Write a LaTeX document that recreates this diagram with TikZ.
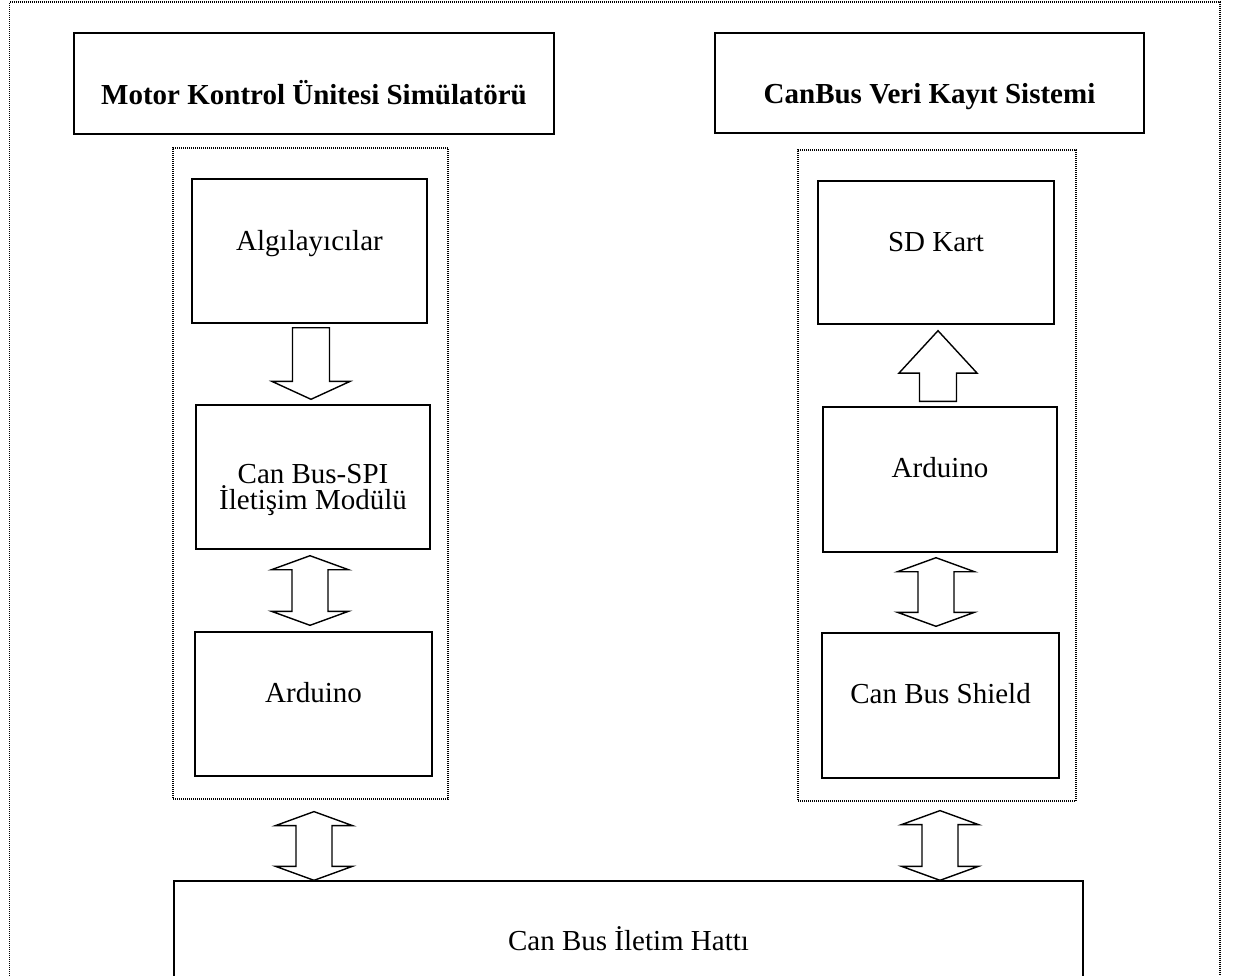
\documentclass[tikz,border=0pt]{standalone}
\usepackage{fontspec}
\setmainfont{Liberation Serif}
\usetikzlibrary{calc}

% hollow double block arrow, #1: upper tip, #2: lower tip
\newcommand{\dblarrow}[2]{%
  \draw[blockarr] (#1) -- ++(38.5,14) -- ++(-20.5,0)
    -- ($(#1 |- #2)+(18,-14)$) -- ++(20.5,0) -- (#1 |- #2)
    -- ++(-38.5,-14) -- ++(20.5,0) -- ($(#1)+(-18,14)$) -- ++(-20.5,0) -- cycle;}

% hollow single block arrow, #1: tail, #2: tip, #3: where the head starts
\newcommand{\onearrow}[3]{%
  \path ($(#1)!#3!(#1 |- #2)$) coordinate (hb);
  \draw[blockarr] ($(#1)+(-18.5,0)$) -- ($(hb)+(-18.5,0)$) -- ($(hb)+(-39,0)$)
    -- (#1 |- #2) -- ($(hb)+(39,0)$) -- ($(hb)+(18.5,0)$) -- ($(#1)+(18.5,0)$) -- cycle;}

\tikzset{
  box/.style={draw, line width=0.7pt, inner sep=0pt, align=center,
    font=\fontsize{14.5pt}{13pt}\selectfont},
  headbox/.style={box, font=\fontsize{14.5pt}{13pt}\selectfont\bfseries},
  dotbox/.style={draw, line width=0.6pt, dash pattern=on 0.5pt off 0.5pt, inner sep=0pt},
  blockarr/.style={draw, line width=0.7pt, fill=white},
  tx/.style 2 args={text height=#1, text depth=#2}
}

\begin{document}
\begin{tikzpicture}[x=0.5pt, y=-0.5pt]

  \useasboundingbox (0,0) rectangle (1235,975);
  \clip (0,0) rectangle (1235,975);

  % Outer dotted frame, open at the bottom of the page
  \draw[dotbox] (9.5,1100) -- (9.5,2) -- (1220,2) -- (1220,1100);

  % Titles
  \node[headbox, minimum width=240pt, minimum height=50.5pt, tx={20.5pt}{0pt}] (mku) at (314,83.5) {Motor Kontrol Ünitesi Simülatörü};
  \node[headbox, minimum width=214.5pt, minimum height=50pt, tx={20pt}{0pt}] (cbv) at (929.5,83) {CanBus Veri Kayıt Sistemi};

  % Dotted groups
  \node[dotbox, minimum width=137.5pt, minimum height=325.5pt] (mkugrp) at (310.5,473.5) {};
  \node[dotbox, minimum width=139pt, minimum height=325.5pt] (cbvgrp) at (937,475.5) {};

  % Left column
  \node[box, minimum width=117.5pt, minimum height=72pt, tx={0pt}{1pt}] (alg) at (309.5,251) {Algılayıcılar};
  \node[box, minimum width=117pt, minimum height=72pt, tx={32pt}{0pt}] (spi) at (313,477) {Can Bus-SPI\\İletişim Modülü};
  \node[box, minimum width=118.5pt, minimum height=72pt, tx={0pt}{2pt}] (ard1) at (313.5,704) {Arduino};

  % Right column
  \node[box, minimum width=118pt, minimum height=71.5pt, tx={0pt}{1.5pt}] (sd) at (936,252.5) {SD Kart};
  \node[box, minimum width=117pt, minimum height=72.5pt, tx={0pt}{2.5pt}] (ard2) at (940,479.5) {Arduino};
  \node[box, minimum width=118.5pt, minimum height=72.5pt, tx={0pt}{2.5pt}] (shield) at (940.5,705.5) {Can Bus Shield};

  % Bus line
  \node[box, minimum width=454.5pt, minimum height=72pt, tx={0pt}{3pt}] (hat) at (628.5,953) {Can Bus İletim Hattı};

  % Arrows, left side
  \coordinate (a1) at ($(alg.south)+(1.5,4)$);
  \coordinate (a2) at ($(spi.north)+(-2,-5)$);
  \onearrow{a1}{a2}{0.75}
  \coordinate (b1) at ($(spi.south)+(-3,6)$);
  \coordinate (b2) at ($(ard1.north)+(0,-6)$);
  \dblarrow{b1}{b2}
  \coordinate (c1) at ($(mkugrp.south)+(3.5,12)$);
  \coordinate (c2) at (hat.north);
  \dblarrow{c1}{c2}

  % Arrows, right side
  \coordinate (d1) at ($(ard2.north)+(-2,-5)$);
  \coordinate (d2) at ($(sd.south)+(2,6)$);
  \onearrow{d1}{d2}{0.4}
  \coordinate (e1) at ($(ard2.south)+(-4,5)$);
  \coordinate (e2) at ($(shield.north)+(0,-6)$);
  \dblarrow{e1}{e2}
  \coordinate (f1) at ($(cbvgrp.south)+(3,9)$);
  \coordinate (f2) at (hat.north);
  \dblarrow{f1}{f2}

\end{tikzpicture}
\end{document}
